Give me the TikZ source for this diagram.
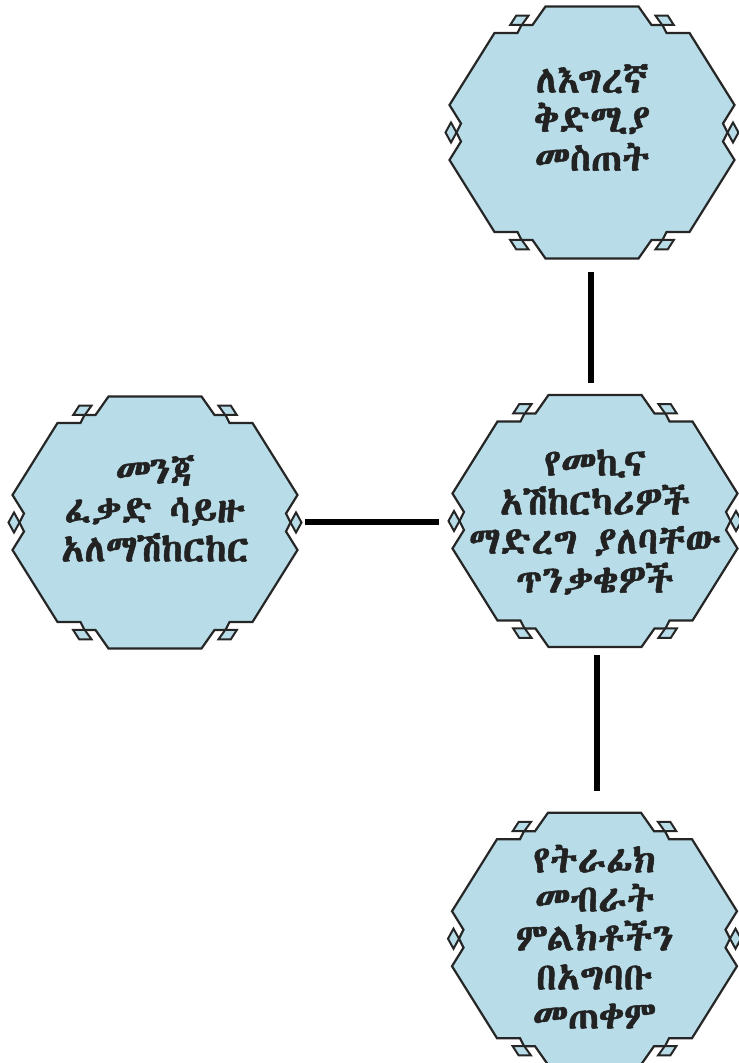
\documentclass[tikz,border=0pt]{standalone}
\usepackage{fontspec}
\newfontfamily\ethfont[FakeBold=1.4]{Abyssinica SIL}
\definecolor{hexfill}{RGB}{184,221,232}
\definecolor{hexline}{RGB}{38,38,38}
\definecolor{txt}{RGB}{34,34,34}
\tikzset{
  hexbody/.style={minimum width=285pt,minimum height=252pt,inner sep=0pt,draw=none},
  hexstroke/.style={fill=hexfill,draw=hexline,line width=2.2pt,line join=miter},
  hextext/.style={align=center,text=txt,inner sep=0pt,font=\ethfont\fontsize{38}{39}\selectfont},
  conn/.style={line width=6pt,draw=black},
}
\newcommand\hexdeco[1]{%
  \begin{scope}[shift={(#1.center)}]
    \path[hexstroke] (-46.5,126) -- (46.5,126) -- (59.5,107.5) -- (70.5,107.5) -- (74.5,99.5) -- (97.5,99.5)
      -- (142.5,27.5) -- (131,9) -- (135.5,0) -- (131,-9) -- (142.5,-27.5)
      -- (97.5,-99.5) -- (74.5,-99.5) -- (70.5,-107.5) -- (59.5,-107.5) -- (46.5,-126)
      -- (-46.5,-126) -- (-59.5,-107.5) -- (-70.5,-107.5) -- (-74.5,-99.5) -- (-97.5,-99.5)
      -- (-142.5,-27.5) -- (-131,-9) -- (-135.5,0) -- (-131,9) -- (-142.5,27.5)
      -- (-97.5,99.5) -- (-74.5,99.5) -- (-70.5,107.5) -- (-59.5,107.5) -- cycle;
    \foreach \sx in {1,-1}{
      \foreach \sy in {1,-1}{
        \path[hexstroke,line width=2pt] (\sx*63.5,\sy*116.8) -- (\sx*75.8,\sy*116.8) -- (\sx*81.8,\sy*107.5) -- (\sx*70.2,\sy*107.5) -- cycle;
      }
      \path[hexstroke,line width=2pt] (\sx*135.5,0) -- (\sx*141,10) -- (\sx*146.5,0) -- (\sx*141,-10) -- cycle;
    }
  \end{scope}}
\begin{document}
\begin{tikzpicture}[x=1pt,y=1pt]
\useasboundingbox (0,0) rectangle (739,1063);
\fill[white] (0,0) rectangle (739,1063);
\node[hexbody] (t) at (592,930.5) {};
\node[hexbody] (l) at (155,540.5) {};
\node[hexbody] (m) at (595,542) {};
\node[hexbody] (b) at (594.5,124.3) {};
\hexdeco{t}\hexdeco{l}\hexdeco{m}\hexdeco{b}
\node[hextext] (tt) at ([yshift=15pt]t.center) {ለእግረኛ\\ቅድሚያ\\መስጠት};
\node[hextext] (lt) at ([yshift=14pt]l.center) {መንጃ\\ፈቃድ ሳይዙ\\አለማሽከርከር};
\node[hextext] (mt) at ([yshift=-1pt]m.center) {የመኪና\\አሽከርካሪዎች\\ማድረግ ያለባቸው\\ጥንቃቄዎች};
\node[hextext] (bt) at ([yshift=2pt]b.center) {የትራፊክ\\መብራት\\ምልክቶችን\\በአግባቡ\\መጠቀም};
\draw[conn,shorten <=13.8pt,shorten >=11.3pt] ([xshift=-1pt]t.south) -- ([xshift=-1pt]t.south |- m.north);
\draw[conn,shorten <=7.5pt,shorten >=13.5pt] (l.east) -- (l.east -| m.west);
\draw[conn,shorten <=7.6pt,shorten >=21.7pt] ([xshift=2.3pt]m.south) -- ([xshift=2.3pt]m.south |- b.north);
\end{tikzpicture}
\end{document}
